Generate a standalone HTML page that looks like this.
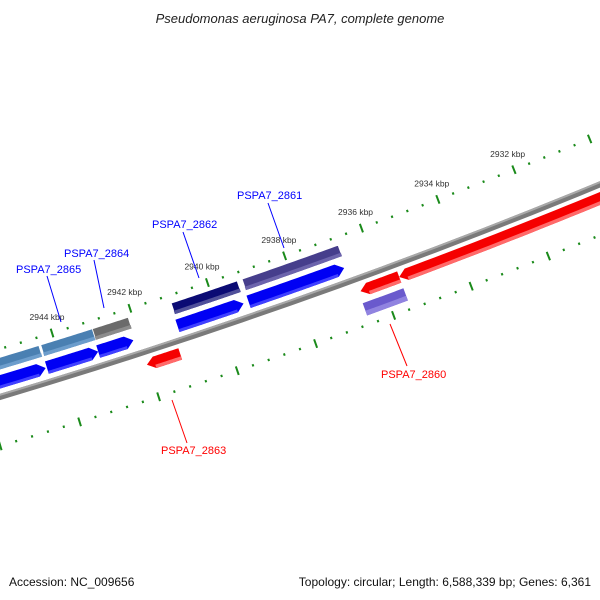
<!DOCTYPE html>
<html><head><meta charset="utf-8">
<style>
html,body{margin:0;padding:0;background:#fff;}
svg{display:block;}
text{font-family:"Liberation Sans",sans-serif;}
</style></head>
<body>
<svg id="map" width="600" height="600" viewBox="0 0 600 600" xmlns="http://www.w3.org/2000/svg">
<rect x="0" y="0" width="600" height="600" fill="#fff"/>
<text x="300" y="23" text-anchor="middle" font-size="13" font-style="italic" fill="#222">Pseudomonas aeruginosa PA7, complete genome</text>
<g id="ticks"></g>
<g id="feat"></g>
<g id="labs"></g>
<text x="9" y="586" font-size="12" fill="#111">Accession: NC_009656</text>
<text x="591" y="586" text-anchor="end" font-size="12" fill="#111">Topology: circular; Length: 6,588,339 bp; Genes: 6,361</text>
</svg>
<script>
// ---- data (bp) ----
const tickStartBp = 2926000;
const tickEndBp = 2950000;
const tickStepBp = 400;
const majorStepBp = 2000;
const labelledTicks = [2932, 2934, 2936, 2938, 2940, 2942, 2944];
// forward CDS arrows [startBp, endBp] (tip at lower bp end)
const fwdStarts = [2947120, 2944370, 2943060, 2941030, 2939200];
const fwdEnds   = [2944400, 2943060, 2942160, 2939330, 2936730];
// upper COG bars
const upStarts = [2947000, 2944350, 2943030, 2941000, 2939170];
const upEnds   = [2944400, 2943030, 2942110, 2939300, 2936680];
const upColors = ["#4a80b2", "#4a80b2", "#6b6b6b", "#0b0b74", "#463e8c"];
const upLight  = ["#6c9dcc", "#6c9dcc", "#8c8c8c", "#50509a", "#6c64ac"];
// reverse CDS arrows (tip at higher bp end)
const revStarts = [2941180, 2935550, 2929040];
const revEnds   = [2942030, 2936550, 2935550];
// lower COG bars
const lowStarts = [2935550];
const lowEnds   = [2936600];
const lowColors = ["#6a5acd"];
const lowLight  = ["#9083e0"];
// gene labels
const geneNames = ["PSPA7_2865","PSPA7_2864","PSPA7_2862","PSPA7_2861","PSPA7_2860","PSPA7_2863"];

// ---- geometry ----
const CX = -1808, CY = -5661, R = 6322;
const TH0 = 68.286 * Math.PI/180, TH1 = 72.76 * Math.PI/180;
function ang(bp){ return TH0 + (bp - 2932000) * (TH1 - TH0) / 12000; }
function pt(a, r){ return [CX + r*Math.cos(a), CY + r*Math.sin(a)]; }
const NS = "http://www.w3.org/2000/svg";
function mk(tag, attrs, parent){ const e = document.createElementNS(NS, tag); for (const k in attrs) e.setAttribute(k, attrs[k]); parent.appendChild(e); return e; }
function arcPts(a1, a2, r, n){ const p=[]; for(let i=0;i<=n;i++){ p.push(pt(a1+(a2-a1)*i/n, r)); } return p; }
function polyStr(p){ return p.map(q=>q[0].toFixed(2)+","+q[1].toFixed(2)).join(" "); }
function bandPoly(a1, a2, rIn, rOut){ return arcPts(a1,a2,rIn,24).concat(arcPts(a2,a1,rOut,24)); }
// arrow: tip at aTip
function arrowPoly(aBase, aTip, rIn, rOut){
  const rm=(rIn+rOut)/2, head=8/rm, dir = aTip>aBase?1:-1;
  const aNeck = aTip - dir*head;
  let p = arcPts(aBase, aNeck, rIn, 24);
  p.push(pt(aTip, rm));
  p = p.concat(arcPts(aNeck, aBase, rOut, 24));
  return p;
}
const ticksG = document.getElementById('ticks');
const featG = document.getElementById('feat');
const labsG = document.getElementById('labs');

// backbone
const bb = mk('polygon', {points: polyStr(bandPoly(ang(2922000), ang(2952000), R-3, R+3)), fill:"#7a7a7a"}, featG);


const bb2 = mk('polygon', {points: polyStr(bandPoly(ang(2922000), ang(2952000), R-3, R-1)), fill:"#a8a8a8"}, featG);



// ticks
const rOutT = R-46, rInT = R+47;
for (let bp = tickStartBp; bp <= tickEndBp; bp += tickStepBp) {
  const a = ang(bp), major = bp % majorStepBp === 0;
  const L = major ? 4.5 : 1.2;
  [rOutT, rInT].forEach((rr, i) => {
    const p1 = pt(a, rr-L), p2 = pt(a, rr+L);
    const ln = mk('line', {x1:p1[0], y1:p1[1], x2:p2[0], y2:p2[1], stroke:"#1a8a1a", "stroke-width": 2}, ticksG);
    
    
  });
}
labelledTicks.forEach(k => {
  const p = pt(ang(k*1000), rOutT-17);
  const t = mk('text', {x:p[0], y:p[1]+3, "text-anchor":"middle", "font-size":"8.5", fill:"#333"}, ticksG);
  t.textContent = k + " kbp";
  
  
});

// upper bars d [26,38]
upStarts.forEach((s, i) => {
  const a1 = ang(upEnds[i]), a2 = ang(s);
  const g = mk('polygon', {points: polyStr(bandPoly(a1, a2, R-38, R-26)), fill: upColors[i], stroke:"#fff", "stroke-width":"0.8"}, featG);
  
  
  const h = mk('polygon', {points: polyStr(bandPoly(a1, a2, R-30, R-26.4)), fill: upLight[i]}, featG);
  
  
});
// forward arrows d [8,21]
fwdStarts.forEach((s, i) => {
  const g = mk('polygon', {points: polyStr(arrowPoly(ang(s), ang(fwdEnds[i]), R-21, R-8)), fill:"#0000f4"}, featG);
  
  
  const h = mk('polygon', {points: polyStr(bandPoly(ang(fwdEnds[i]) + 8/(R-14), ang(s), R-11, R-8)), fill:"#4040ff"}, featG);
  
  
});
// reverse arrows d [-19,-7]
revStarts.forEach((s, i) => {
  const g = mk('polygon', {points: polyStr(arrowPoly(ang(s), ang(revEnds[i]), R+7, R+19)), fill:"#f50000"}, featG);
  
  
  const h = mk('polygon', {points: polyStr(bandPoly(ang(s), ang(revEnds[i]) - 8/(R+13), R+15.5, R+19)), fill:"#ff6a6a"}, featG);
  
  
});
// lower bars d [-38,-25]
lowStarts.forEach((s, i) => {
  const a1 = ang(s), a2 = ang(lowEnds[i]);
  const g = mk('polygon', {points: polyStr(bandPoly(a1, a2, R+25, R+38)), fill: lowColors[i]}, featG);
  
  
  const h = mk('polygon', {points: polyStr(bandPoly(a1, a2, R+33, R+38)), fill: lowLight[i]}, featG);
  
  
});

// labels
const labX = [16, 64, 152, 237, 381, 161];
const labY = [273, 257, 228, 199, 378, 454];
const lineA = [[47,276],[94,260],[183,232],[268,203],[390,324],[172,400]];
const lineB = [[61,322],[104,308],[199,278],[284,248],[407,366],[187,443]];
const labCol = ["#0000ff","#0000ff","#0000ff","#0000ff","#ff0000","#ff0000"];
geneNames.forEach((n, i) => {
  const l = mk('line', {x1:lineA[i][0], y1:lineA[i][1], x2:lineB[i][0], y2:lineB[i][1], stroke:labCol[i], "stroke-width":1}, labsG);
  
  
  const t = mk('text', {x:labX[i], y:labY[i], "font-size":"11", fill:labCol[i]}, labsG);
  t.textContent = n;
  
  
});
</script>
</body></html>
